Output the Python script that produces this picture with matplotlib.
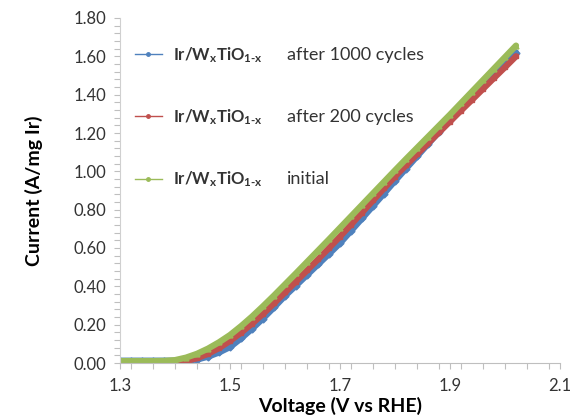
import matplotlib
matplotlib.use("Agg")
import matplotlib.pyplot as plt
from matplotlib.ticker import MultipleLocator, FixedLocator, FormatStrFormatter

plt.rcParams['font.family'] = ['Lato', 'DejaVu Sans']
plt.rcParams['mathtext.fontset'] = 'custom'
plt.rcParams['mathtext.rm'] = 'Lato:bold'
plt.rcParams['mathtext.it'] = 'Lato:bold'
plt.rcParams['mathtext.bf'] = 'Lato:bold'

voltage = [1.30, 1.32, 1.34, 1.36, 1.38, 1.40, 1.42, 1.44, 1.46, 1.48,
           1.50, 1.52, 1.54, 1.56, 1.58, 1.60, 1.62, 1.64, 1.66, 1.68,
           1.70, 1.72, 1.74, 1.76, 1.78, 1.80, 1.82, 1.84, 1.86, 1.88,
           1.90, 1.92, 1.94, 1.96, 1.98, 2.00, 2.02]

current_1000 = [0.012, 0.012, 0.012, 0.012, 0.012, 0.012, 0.013, 0.018, 0.033, 0.055,
                0.083, 0.128, 0.178, 0.232, 0.290, 0.350, 0.404, 0.459, 0.514, 0.569,
                0.625, 0.689, 0.754, 0.819, 0.884, 0.950, 1.014, 1.078, 1.142, 1.206,
                1.270, 1.328, 1.386, 1.445, 1.503, 1.562, 1.620]

current_200 = [0.004, 0.005, 0.005, 0.005, 0.005, 0.006, 0.010, 0.025, 0.048, 0.078,
               0.115, 0.158, 0.205, 0.256, 0.311, 0.368, 0.425, 0.483, 0.541, 0.600,
               0.660, 0.722, 0.785, 0.848, 0.911, 0.973, 1.031, 1.089, 1.146, 1.203,
               1.260, 1.317, 1.373, 1.430, 1.487, 1.543, 1.600]

current_initial = [0.010, 0.010, 0.010, 0.010, 0.011, 0.015, 0.028, 0.048, 0.075, 0.108,
                   0.146, 0.192, 0.242, 0.296, 0.352, 0.410, 0.468, 0.527, 0.586, 0.645,
                   0.705, 0.765, 0.825, 0.885, 0.945, 1.005, 1.064, 1.122, 1.180, 1.238,
                   1.296, 1.356, 1.416, 1.476, 1.536, 1.596, 1.656]

x_ticks = [1.3, 1.5, 1.7, 1.9, 2.1]

formula = r"Ir/W$_\mathrm{x}$TiO$_\mathrm{1\text{-}x}$"
descriptions = ["after 1000 cycles", "after 200 cycles", "initial"]
colors = ["#4F81BD", "#C0504D", "#9BBB59"]
markers = ["D", "s", "^"]

fig = plt.figure(figsize=(5.79, 4.20), dpi=100)
ax = fig.add_axes([120/579, 1-363/420, 440/579, 345/420])

series = [current_1000, current_200, current_initial]
for ys, c, m in zip(series, colors, markers):
    ax.plot(voltage, ys, color=c, lw=4.5, marker=m, ms=3.5, mec=c, mfc=c,
            solid_capstyle='round')

ax.set_xlim(1.3, 2.1)
ax.set_ylim(0, 1.8)
ax.xaxis.set_major_locator(FixedLocator(x_ticks))
ax.xaxis.set_minor_locator(MultipleLocator(0.04))
ax.yaxis.set_major_locator(MultipleLocator(0.2))
ax.yaxis.set_minor_locator(MultipleLocator(0.04))
ax.xaxis.set_major_formatter(FormatStrFormatter('%.1f'))
ax.yaxis.set_major_formatter(FormatStrFormatter('%.2f'))

for s in ['top', 'right']:
    ax.spines[s].set_visible(False)
ax.spines['left'].set_color('#D0D0D0')
ax.spines['bottom'].set_color('#BFBFBF')
ax.tick_params(which='both', direction='out', color='#BFBFBF', length=4, width=0.8,
               labelsize=12, labelcolor='#333333')
ax.tick_params(axis='x', pad=7)
ax.tick_params(axis='y', pad=6)

ax.set_xlabel("Voltage (V vs RHE)", fontsize=14, fontweight='bold', labelpad=2)
ax.set_ylabel("Current (A/mg Ir)", fontsize=14, fontweight='bold', labelpad=22)

leg_handles = []
for c in colors:
    h, = ax.plot([], [], color=c, lw=1, marker='o', ms=2.5)
    leg_handles.append(h)
leg = ax.legend(leg_handles, [formula]*3, loc='upper left', bbox_to_anchor=(0.0, 0.965),
                frameon=False, fontsize=12, labelspacing=2.55, handlelength=1.6,
                handletextpad=0.7)
for t in leg.get_texts():
    t.set_fontweight('bold')
    t.set_color('#333333')

fig.canvas.draw()
renderer = fig.canvas.get_renderer()
inv = ax.transAxes.inverted()
for t, d in zip(leg.get_texts(), descriptions):
    bb = t.get_window_extent(renderer)
    yc = (bb.y0 + bb.y1) / 2
    _, ya = inv.transform((0, yc))
    ax.text(0.38, ya, d, transform=ax.transAxes, fontsize=13, color='#333333',
            va='center', ha='left')

fig.savefig("out.png", dpi=100)
